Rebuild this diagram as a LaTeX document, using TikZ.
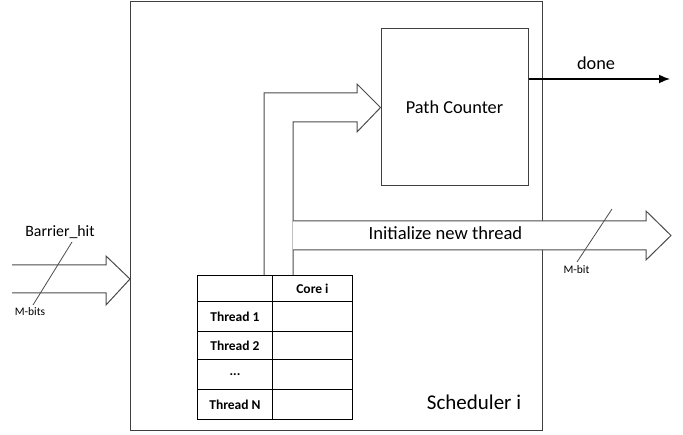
\documentclass[tikz,border=0pt]{standalone}
\usepackage{fontspec}
\setmainfont{Carlito}
\usetikzlibrary{arrows.meta}
\begin{document}
\begin{tikzpicture}[x=1pt,y=-1pt,line join=miter,
  frame/.style={draw=black!75,line width=1.3pt,inner sep=0pt,anchor=north west},
  block/.style={draw=black!75,line width=1pt,inner sep=0pt},
  fatarrow/.style={draw=black!70,line width=1pt,fill=white},
  slash/.style={draw=black!70,line width=0.8pt},
  cell/.style={draw=black,line width=0.9pt,inner sep=0pt,anchor=north west,font=\fontsize{13.5}{15}\selectfont\bfseries},
  bigtxt/.style={font=\fontsize{18.3}{20}\selectfont},
  smalltxt/.style={font=\fontsize{11.5}{13}\selectfont}]
\useasboundingbox (0,0) rectangle (683,435);
% scheduler frame
\node[frame,minimum width=412pt,minimum height=429pt] (sched) at (130,1) {};
\node[font=\fontsize{21}{23}\selectfont] (schedlbl) at (474,402) {Scheduler i};
% path counter
\node[block,minimum width=147pt,minimum height=157pt,bigtxt] (pc) at (454.5,107.5) {Path Counter};
% table
\node[cell,minimum width=75pt,minimum height=26pt] (t11) at (197,275) {};
\node[cell,minimum width=80pt,minimum height=26pt] (t12) at (272,275) {Core i};
\node[cell,minimum width=75pt,minimum height=30pt] (t21) at (197,301) {Thread 1};
\node[cell,minimum width=80pt,minimum height=30pt] (t22) at (272,301) {};
\node[cell,minimum width=75pt,minimum height=28pt] (t31) at (197,331) {Thread 2};
\node[cell,minimum width=80pt,minimum height=28pt] (t32) at (272,331) {};
\node[cell,minimum width=75pt,minimum height=30pt] (t41) at (197,359) {\raisebox{-2pt}{...}};
\node[cell,minimum width=80pt,minimum height=30pt] (t42) at (272,359) {};
\node[cell,minimum width=75pt,minimum height=30pt] (t51) at (197,389) {Thread N};
\node[cell,minimum width=80pt,minimum height=30pt] (t52) at (272,389) {};
% fat arrow from table to path counter
\coordinate (uA) at (264,275);
\coordinate (uB) at (293,275);
\draw[fatarrow] (uA) -- (264,93) -- (357,93) -- (357,84) -- (pc.west) -- (357,132) -- (357,122) -- (293,122) -- (uB);
% initialize new thread arrow
\coordinate (initTip) at (671,235.5);
\draw[fatarrow] (293,221) -- (646,221) -- (646,211) -- (initTip) -- (646,260) -- (646,250) -- (293,250);
\node[font=\fontsize{18.6}{20}\selectfont] (initlbl) at (445.5,233) {Initialize new thread};
% M-bit slash
\coordinate (mb1) at (612,209);
\coordinate (mb2) at (577,262);
\draw[slash] (mb1) -- (mb2);
\node[smalltxt] (mblbl) at (576.5,270) {M-bit};
% barrier_hit input arrow
\coordinate (bStart) at (12,265);
\draw[fatarrow] (bStart) -- (106,265) -- (106,256) -- (sched.west |- 0,279) -- (106,305) -- (106,293) -- (12,293);
\coordinate (bs1) at (72,242);
\coordinate (bs2) at (33,305);
\draw[slash] (bs1) -- (bs2);
\node[font=\fontsize{15.8}{17}\selectfont] (bhlbl) at (60,232) {Barrier\_hit};
\node[smalltxt] (mbslbl) at (30,312) {M-bits};
% done output
\coordinate (doneEnd) at (670,79);
\draw[line width=1.6pt,-{Latex[length=11pt,width=9pt]}] (pc.east |- doneEnd) -- (doneEnd);
\node[bigtxt] (donelbl) at (596,63) {done};
\end{tikzpicture}
\end{document}
